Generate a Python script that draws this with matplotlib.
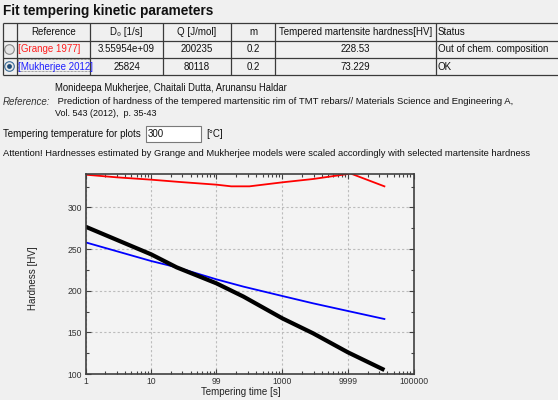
import numpy as np
import matplotlib.pyplot as plt
from matplotlib.patches import Circle, Rectangle
from matplotlib.ticker import FixedLocator, FixedFormatter, MultipleLocator, NullFormatter

plt.rcParams['font.family'] = ['Liberation Sans', 'DejaVu Sans']

# table data
col_names = ["Reference", "D\u2080 [1/s]", "Q [J/mol]", "m", "Tempered martensite hardness[HV]", "Status"]
references = ["[Grange 1977]", "[Mukherjee 2012]"]
ref_colors = ["#ff2020", "#2020ff"]
d0 = ["3.55954e+09", "25824"]
q_act = ["200235", "80118"]
m_exp = ["0.2", "0.2"]
hardness = ["228.53", "73.229"]
status = ["Out of chem. composition", "OK"]

ref_lines = ["Monideepa Mukherjee, Chaitali Dutta, Arunansu Haldar",
             " Prediction of hardness of the tempered martensitic rim of TMT rebars// Materials Science and Engineering A,",
             "Vol. 543 (2012),  p. 35-43"]

# curves (time in s, hardness in HV)
t_grange = [1, 3, 10, 27.6, 99, 166, 316, 1000, 2950, 10000, 10840, 36000]
hv_grange = [339.2, 336, 333.2, 330.4, 327.2, 325.2, 325.2, 330, 334, 340, 340.8, 325.2]
t_black = [1, 10, 24.5, 99, 257, 1000, 2950, 10000, 36000]
hv_black = [276.8, 243.6, 228, 208.8, 192.8, 166.8, 148.8, 126, 104.8]
t_muk = [1, 10, 24.5, 99, 257, 1000, 2950, 10000, 36000]
hv_muk = [258, 235.6, 228, 213.6, 204.8, 193.6, 184.8, 175.6, 166]

x_ticks = [1, 10, 99, 1000, 9999, 100000]
x_labels = ["1", "10", "99", "1000", "9999", "100000"]

W, H = 558, 400
bg = "#f0f0f0"
fig = plt.figure(figsize=(W / 100, H / 100), dpi=100, facecolor=bg)

ui = fig.add_axes([0, 0, 1, 1])
ui.set_xlim(0, W)
ui.set_ylim(H, 0)
ui.axis("off")

fs = 7.0
renderer = fig.canvas.get_renderer()


def fit(t, width_px):
    w = t.get_window_extent(renderer).width
    t.set_fontsize(t.get_fontsize() * width_px / w)


title = ui.text(3, 11, "Fit tempering kinetic parameters", fontsize=10, fontweight="bold",
                va="center", ha="left", color="#111111")
fit(title, 211)

# table grid
col_x = [3, 17, 90, 163, 231, 275, 436]
row_y = [23, 41, 58, 75]
for y in row_y:
    ui.plot([3, W], [y, y], color="#3a3a3a", lw=0.9, solid_capstyle="butt")
for x in col_x:
    ui.plot([x, x], [23, 75], color="#3a3a3a", lw=0.9, solid_capstyle="butt")

hy = (row_y[0] + row_y[1]) / 2
for i, name in enumerate(col_names):
    if name == "Status":
        ui.text(col_x[i + 1] + 2, hy, name, fontsize=fs, va="center", ha="left", color="#111111")
    else:
        ui.text((col_x[i + 1] + col_x[i + 2]) / 2, hy, name, fontsize=fs, va="center", ha="center",
                color="#111111")

for r in range(2):
    cy = (row_y[r + 1] + row_y[r + 2]) / 2
    ui.text(18, cy, references[r], fontsize=fs, va="center", ha="left", color=ref_colors[r])
    vals = [d0[r], q_act[r], m_exp[r], hardness[r]]
    for j, v in enumerate(vals):
        ui.text((col_x[j + 2] + col_x[j + 3]) / 2, cy, v, fontsize=fs, va="center", ha="center",
                color="#111111")
    ui.text(col_x[6] + 2, cy, status[r], fontsize=fs, va="center", ha="left", color="#111111")
    # radio buttons
    ui.add_patch(Circle((9.5, cy), 4.8, facecolor="#e6e6e6", edgecolor="#8a8a8a" if r == 0 else "#3a6d99",
                        lw=0.8))
    if r == 1:
        ui.add_patch(Circle((9.5, cy), 2.4, facecolor="#1c4a78", edgecolor="none"))

ui.add_patch(Rectangle((17.5, 58.8), 72, 12.5, fill=False, edgecolor="#555555", lw=0.5, ls=(0, (1, 1))))

# reference block
ui.text(3, 102, "Reference:", fontsize=fs, style="italic", va="center", ha="left", color="#333333")
t1 = ui.text(55, 88, ref_lines[0], fontsize=fs, va="center", ha="left", color="#111111")
fit(t1, 233)
t2 = ui.text(55, 102, ref_lines[1], fontsize=fs, va="center", ha="left", color="#111111")
fit(t2, 458)
t3 = ui.text(55, 113.5, ref_lines[2], fontsize=fs, va="center", ha="left", color="#111111")
fit(t3, 102)

ui.text(3, 134, "Tempering temperature for plots", fontsize=fs, va="center", ha="left", color="#111111")
ui.add_patch(Rectangle((145.5, 126), 55.5, 16, facecolor="white", edgecolor="#7a7a7a", lw=0.8))
ui.text(148, 134, "300", fontsize=fs, va="center", ha="left", color="#111111")
ui.text(206, 134, "[\u00b0C]", fontsize=fs, va="center", ha="left", color="#111111")

att = ui.text(3, 154, "Attention! Hardnesses estimated by Grange and Mukherjee models were scaled "
                      "accordingly with selected martensite hardness",
              fontsize=fs, va="center", ha="left", color="#111111")
fit(att, 528)

ui.text(33, 278, "Hardness [HV]", fontsize=fs, rotation=90, va="center", ha="center", color="#222222")
ui.text(241, 392, "Tempering time [s]", fontsize=fs, va="center", ha="center", color="#222222")

# chart
ax = fig.add_axes([85.5 / W, 1 - 374 / H, (413.5 - 85.5) / W, 200 / H])
ax.set_facecolor("#f3f3f3")
ax.set_xscale("log")
ax.set_xlim(1, 100000)
ax.set_ylim(100, 340)

ax.plot(t_grange, hv_grange, color="#ff0000", lw=1.3)
ax.plot(t_muk, hv_muk, color="#0000ff", lw=1.3)
ax.plot(t_black, hv_black, color="black", lw=3.0, solid_capstyle="butt")

ax.xaxis.set_major_locator(FixedLocator(x_ticks))
ax.xaxis.set_major_formatter(FixedFormatter(x_labels))
ax.xaxis.set_minor_formatter(NullFormatter())
ax.yaxis.set_major_locator(MultipleLocator(50))
ax.yaxis.set_minor_locator(MultipleLocator(25))

ax.grid(True, which="major", color="#bcbcbc", ls=(0, (2, 2)), lw=0.8)
ax.tick_params(which="both", direction="in", top=True, right=True, color="#404040",
               width=0.8, labelsize=6.2, labelcolor="#333333")
ax.tick_params(which="major", length=3.5)
ax.tick_params(which="minor", length=2.5)
ax.tick_params(axis="y", pad=2.5)
ax.tick_params(axis="x", pad=2)
for s in ax.spines.values():
    s.set_color("#404040")
    s.set_linewidth(1.2)

fig.savefig("out.png", dpi=100, facecolor=bg)
